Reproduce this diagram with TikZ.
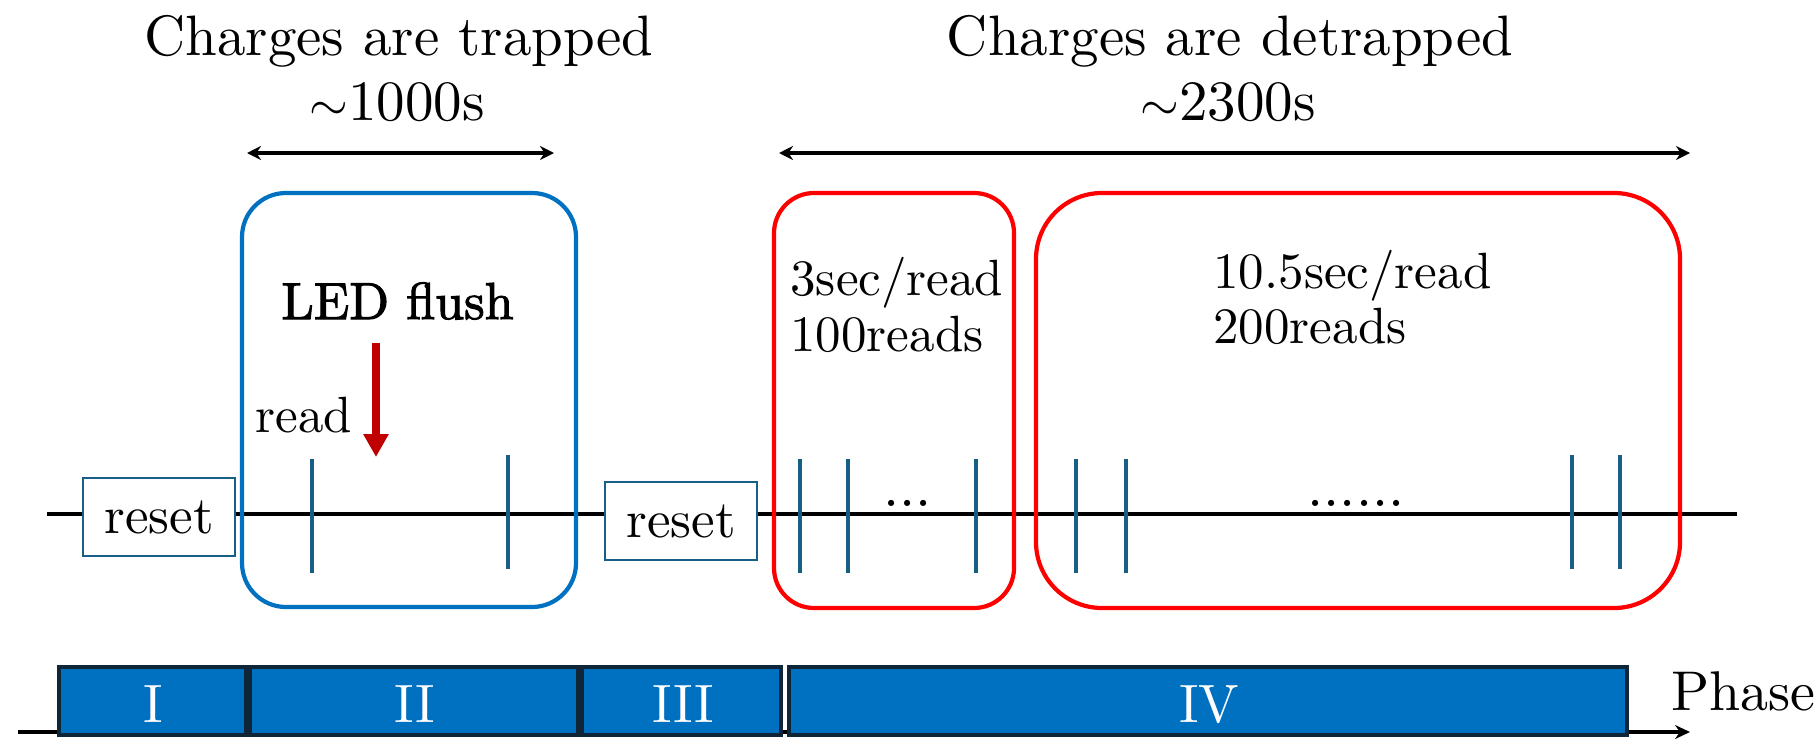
\documentclass[tikz,border=0pt]{standalone}
\usepackage{fontspec}
% 10pt design size at every size, emboldened for \bfseries
\setmainfont{lmroman10-regular.otf}[BoldFont=lmroman10-regular.otf, BoldFeatures={FakeBold=2}]
\usetikzlibrary{arrows.meta}
\definecolor{tickteal}{RGB}{24,94,134}
\definecolor{boxblue}{RGB}{0,112,192}
\definecolor{boxred}{RGB}{255,0,0}
\definecolor{flushred}{RGB}{192,0,0}
\definecolor{barnavy}{RGB}{14,38,56}
\tikzset{
  px/.style={x=0.5pt,y=-0.5pt},
  title/.style={font=\fontsize{28.5}{33}\selectfont, anchor=base, inner sep=0pt},
  span/.style={line width=2.2pt, {Stealth[length=7pt,width=7pt]}-{Stealth[length=7pt,width=7pt]}},
  window/.style={line width=2.1pt},
  readtick/.style={draw=tickteal, line width=1.8pt},
  resetbox/.style={draw=tickteal, line width=1pt, fill=white, minimum width=76pt,
    minimum height=39pt, inner sep=0pt, font=\fontsize{26.5}{30}\selectfont},
  boxtext/.style={font=\fontsize{25.5}{28}\selectfont, anchor=base west, inner sep=0pt},
  dotrow/.style={font=\fontsize{29}{30}\selectfont, anchor=base, inner sep=0pt},
  phaseseg/.style={draw=barnavy, fill=boxblue, line width=2pt, minimum height=33.85pt, inner sep=0pt},
  numeral/.style={text=white, font=\fontsize{27}{30}\selectfont, anchor=base, inner sep=0pt},
}
\begin{document}
\begin{tikzpicture}[px]
\useasboundingbox (0,0) rectangle (1818,740);
% headings and their time spans
\node[title] (trapT) at (399,55) {Charges are trapped};
\node[title] (trapD) at (397,120) {$\sim$1000s};
\node[title] (detT) at (1230,55) {Charges are detrapped};
\node[title] (detD) at (1228,120) {$\sim$2300s};
\coordinate (trapL) at (247,153); \coordinate (trapR) at (554,153);
\coordinate (detL) at (779,153); \coordinate (detR) at (1690,153);
\draw[span] (trapL) -- (trapR);
\draw[span] (detL) -- (detR);
% exposure time line
\coordinate (tlL) at (47,514); \coordinate (tlR) at (1737,514);
\draw[line width=2pt] (tlL) -- (tlR);
\node[resetbox] (reset1) at (159,517) {reset};
\node[resetbox] (reset2) at (681,521) {reset};
% read windows
\draw[window, draw=boxblue, rounded corners=22pt] (242,193) rectangle (576,607);
\draw[window, draw=boxred, rounded corners=20pt] (774,193) rectangle (1014,608);
\draw[window, draw=boxred, rounded corners=33pt] (1036,193) rectangle (1680,608);
% individual reads
\foreach \x/\a/\b in {312/459/573, 508/455/569, 800/459/573, 848/459/573, 976/459/573,
  1076/459/573, 1126/459/573, 1572/455/569, 1620/455/569}
  \draw[readtick] (\x,\a) -- (\x,\b);
\node[dotrow] (dots1) at (907.5,506) {...};
\node[dotrow] (dots2) at (1356,506) {......};
% LED flush
\node[anchor=base west, inner sep=0pt, font=\bfseries\fontsize{26}{30}\selectfont] (flush) at (281,319) {LED flush};
\coordinate (flushtop) at (376,343); \coordinate (flushtip) at (376,457);
\draw[line width=3.9pt, flushred, -{Triangle[length=11.5pt,width=12pt]}] (flushtop) -- (flushtip);
\node[boxtext] (readlbl) at (255,432) {read};
\node[boxtext] (fast1) at (790,295) {3sec/read};
\node[boxtext] (fast2) at (790,351) {100reads};
\node[boxtext] (slow1) at (1213,288) {10.5sec/read};
\node[boxtext] (slow2) at (1213,343) {200reads};
% phase bar
\coordinate (axL) at (18,732); \coordinate (axR) at (1690,732);
\draw[line width=2pt, -{Stealth[length=7.5pt,width=7pt]}] (axL) -- (axR);
\node[phaseseg, minimum width=93.35pt] (ph1) at (152.65,700.85) {};
\node[phaseseg, minimum width=164pt] (ph2) at (414,700.85) {};
\node[phaseseg, minimum width=99.5pt] (ph3) at (681.5,700.85) {};
\node[phaseseg, minimum width=418.75pt] (ph4) at (1207.75,700.85) {};
\node[numeral] (n1) at (153,722.5) {I};
\node[numeral] (n2) at (415,722.5) {II};
\node[numeral] (n3) at (683,722.5) {III};
\node[numeral] (n4) at (1209,722.5) {IV};
\node[anchor=base west, inner sep=0pt, font=\fontsize{28}{30}\selectfont] (phase) at (1671,710) {Phase};
\end{tikzpicture}
\end{document}
